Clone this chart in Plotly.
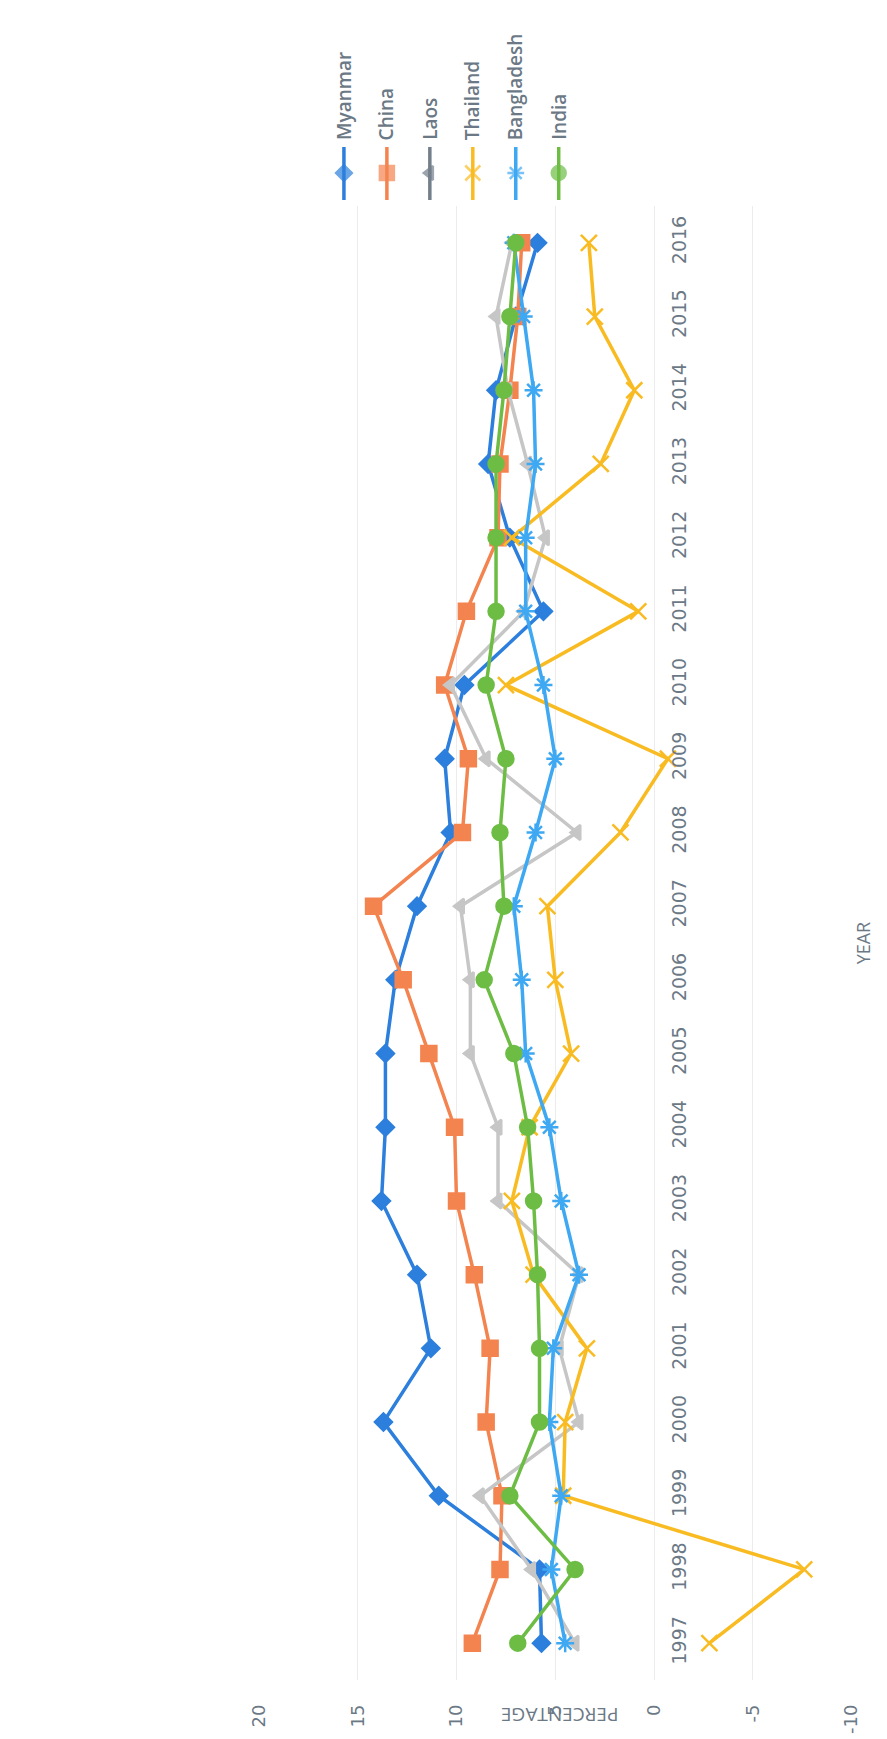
import plotly.graph_objects as go

W, H = 887, 1739

years = list(range(1997, 2017))
series_names = ["Myanmar", "China", "Laos", "Thailand", "Bangladesh", "India"]
myanmar = [5.7, 5.8, 10.9, 13.7, 11.3, 12.0, 13.8, 13.6, 13.6, 13.1, 12.0, 10.3, 10.6, 9.6, 5.6, 7.3, 8.4, 8.0, 7.0, 5.9]
china = [9.2, 7.8, 7.7, 8.5, 8.3, 9.1, 10.0, 10.1, 11.4, 12.7, 14.2, 9.7, 9.4, 10.6, 9.5, 7.9, 7.8, 7.3, 6.9, 6.7]
laos = [4.0, 6.2, 8.8, 3.8, 4.8, 3.8, 7.9, 7.9, 9.3, 9.3, 9.8, 3.9, 8.5, 10.3, 6.6, 5.5, 6.4, 7.4, 8.0, 7.2]
thailand = [-2.8, -7.6, 4.6, 4.5, 3.4, 6.1, 7.2, 6.3, 4.2, 5.0, 5.4, 1.7, -0.7, 7.5, 0.8, 7.2, 2.7, 1.0, 3.0, 3.3]
bangladesh = [4.5, 5.2, 4.7, 5.3, 5.1, 3.8, 4.7, 5.3, 6.5, 6.7, 7.1, 6.0, 5.0, 5.6, 6.5, 6.5, 6.0, 6.1, 6.6, 7.1]
india = [6.9, 4.0, 7.3, 5.8, 5.8, 5.9, 6.1, 6.4, 7.1, 8.6, 7.6, 7.8, 7.5, 8.5, 8.0, 8.0, 8.0, 7.6, 7.3, 7.0]
values = [myanmar, china, laos, thailand, bangladesh, india]

pct_ticks = [-10, -5, 0, 5, 10, 15, 20]
pct_labels = ["-10", "-5", "0", "5", "10", "15", "20"]

colors = ["#2c7fdc", "#f4844f", "#c6c6c6", "#f9bb22", "#3ea8f2", "#6dbd45"]
legend_colors = ["#2c7fdc", "#f4844f", "#737f8b", "#f9bb22", "#3ea8f2", "#6dbd45"]
symbols = ["diamond", "square", "triangle-left", "x-thin-open", "asterisk-open", "circle"]
sizes = [13, 15, 13, 16, 15, 15]
text_color = "#6b7885"

# layout geometry in pixels
pl, pr, pt, pb = 254, 861, 206, 1680

fig = go.Figure()
for name, vals, c, s, sz in zip(series_names, values, colors, symbols, sizes):
    fig.add_trace(go.Scatter(
        x=vals, y=years, mode="lines+markers", name=name,
        line=dict(color=c, width=3.5),
        marker=dict(symbol=s, size=sz, color=c, line=dict(color=c, width=2.5)),
        showlegend=False, xaxis="x", yaxis="y",
    ))

# custom rotated legend
lx0, ldx = 341, 44
for i, (name, c, s, sz) in enumerate(zip(series_names, legend_colors, symbols, sizes)):
    lx = lx0 + ldx * i
    fig.add_trace(go.Scatter(
        x=[lx, lx, lx], y=[147, 173, 200], mode="lines+markers",
        line=dict(color=c, width=3.5),
        marker=dict(symbol=s, size=[0, sz - 1, 0], color=c, line=dict(color=c, width=2.5)),
        showlegend=False, xaxis="x2", yaxis="y2", hoverinfo="skip",
    ))
    fig.add_annotation(
        x=lx / W, y=1 - 142 / H, xref="paper", yref="paper",
        text=name, textangle=-90, showarrow=False,
        xanchor="center", yanchor="bottom",
        font=dict(family="Open Sans", size=19, color=text_color, weight=600),
    )

fig.add_annotation(
    x=562 / W, y=1 - 1715 / H, xref="paper", yref="paper", text="PERCENTAGE",
    textangle=180, showarrow=False, xanchor="center", yanchor="middle",
    font=dict(family="Open Sans", size=19, color=text_color),
)
fig.add_annotation(
    x=873 / W, y=1 - 943 / H, xref="paper", yref="paper", text="YEAR",
    textangle=-90, showarrow=False, xanchor="center", yanchor="middle",
    font=dict(family="Open Sans", size=18, color=text_color),
)

xdom = [pl / W, pr / W]
zero_frac = (20 - 0) / 30.0
fig.update_layout(
    width=W, height=H,
    margin=dict(l=0, r=0, t=0, b=0),
    paper_bgcolor="white", plot_bgcolor="rgba(0,0,0,0)",
    xaxis=dict(
        domain=xdom, range=[20, -10], tickvals=pct_ticks, ticktext=pct_labels,
        tickangle=-90, showgrid=True, gridcolor="#ececec", gridwidth=1,
        zeroline=False, showline=False, ticks="", ticklabelstandoff=20,
        tickfont=dict(family="DejaVu Sans", size=18, color=text_color),
        anchor="y",
    ),
    yaxis=dict(
        domain=[1 - pb / H, 1 - pt / H], range=[1996.5, 2016.5],
        tickvals=years, ticktext=[str(y) for y in years],
        tickangle=-90, showgrid=False, zeroline=False, showline=False, ticks="",
        side="right", anchor="free", position=xdom[0] + zero_frac * (xdom[1] - xdom[0]),
        ticklabelstandoff=12,
        tickfont=dict(family="DejaVu Sans", size=19, color=text_color),
    ),
    xaxis2=dict(domain=[0, 1], range=[0, W], visible=False, anchor="y2"),
    yaxis2=dict(domain=[1 - 205 / H, 1], range=[205, 0], visible=False, anchor="x2"),
)

fig.write_html("out.html")
